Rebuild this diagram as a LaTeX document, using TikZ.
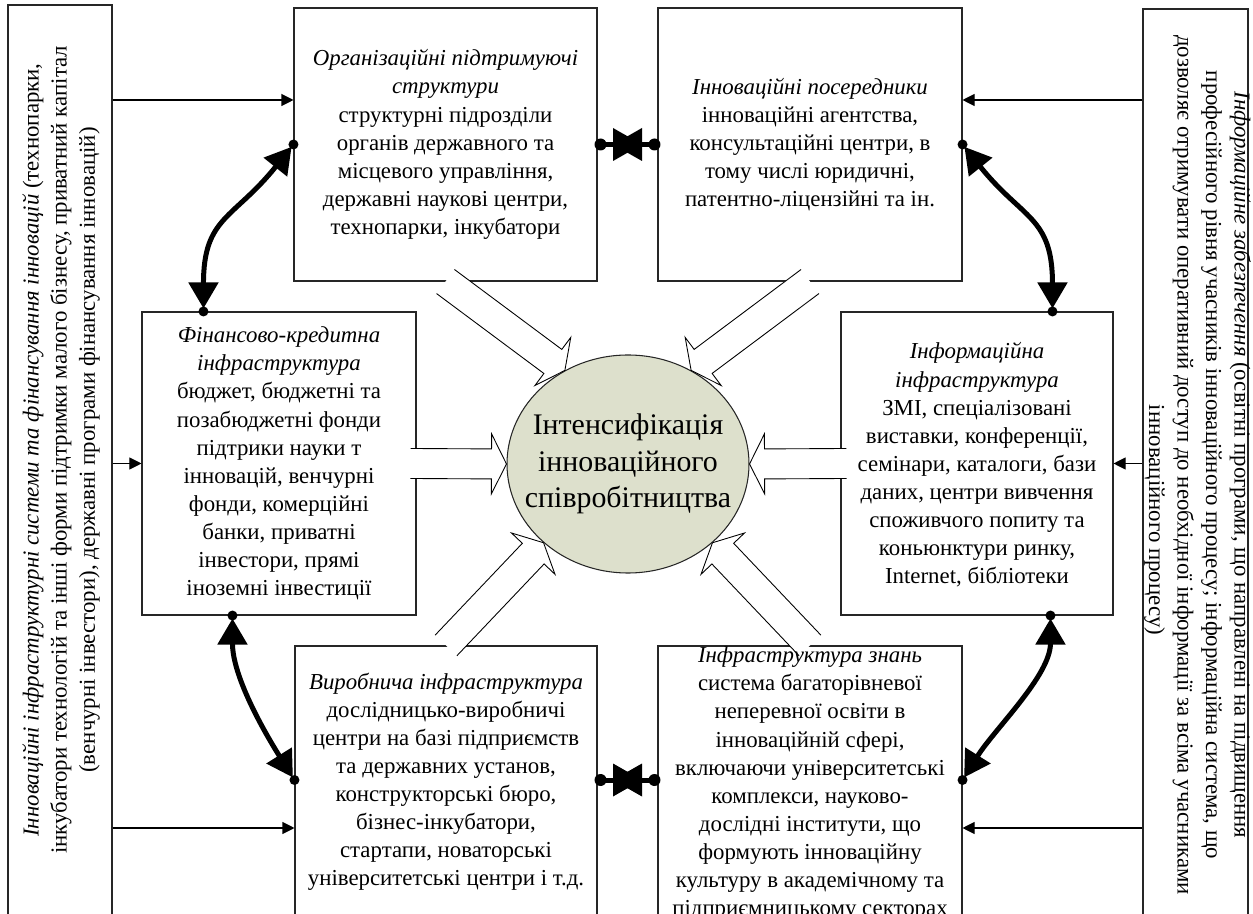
\documentclass[tikz,border=0pt]{standalone}
\usepackage{fontspec}
\setmainfont{Liberation Serif}
\usetikzlibrary{calc,arrows.meta,shapes.geometric}
\definecolor{ellfill}{RGB}{221,224,204}
\newcommand{\hollowarrow}[2]{%
  \coordinate (ha-b) at ($(#2)!3mm!(#1)$);
  \path[fill=white] ($(#1)!3mm!90:(#2)$) -- ($(ha-b)!3mm!-90:(#1)$) -- ($(ha-b)!6mm!-90:(#1)$) -- (#2) -- ($(ha-b)!6mm!90:(#1)$) -- ($(ha-b)!3mm!90:(#1)$) -- ($(#1)!3mm!-90:(#2)$) -- cycle;
  \draw[hollow] ($(#1)!3mm!90:(#2)$) -- ($(ha-b)!3mm!-90:(#1)$) -- ($(ha-b)!6mm!-90:(#1)$) -- (#2) -- ($(ha-b)!6mm!90:(#1)$) -- ($(ha-b)!3mm!90:(#1)$) -- ($(#1)!3mm!-90:(#2)$);
}
\begin{document}
\begin{tikzpicture}[x=0.2mm,y=0.2mm,
  box/.style={draw=black!85,line width=0.6pt,inner sep=0pt},
  txt/.style={align=center,inner sep=0pt,font=\fontsize{13}{16}\selectfont},
  thinarr/.style={draw=black,line width=0.6pt,-{Triangle[length=2.4mm,width=2.4mm]}},
  boldarr/.style={line width=1mm,{Triangle[length=5.2mm,width=5.8mm]}-{Triangle[length=5.2mm,width=5.8mm]},shorten <=0.6mm,shorten >=0.6mm},
  hollow/.style={draw=black,line width=0.5pt},
  dot/.style={fill=black}]
\useasboundingbox (0,0) rectangle (1253,-914);
\clip (0,0) rectangle (1253,-914);
% boxes
\node[box,minimum width=60.6mm,minimum height=54.6mm] (tl) at (445.5,-144.5) {};
\node[box,minimum width=60.8mm,minimum height=54.6mm] (tr) at (810,-144.5) {};
\node[box,minimum width=54.8mm,minimum height=60.6mm] (ml) at (279,-463.5) {};
\node[box,minimum width=54.4mm,minimum height=60.6mm] (mr) at (977,-463.5) {};
\node[box,minimum width=60.4mm,minimum height=58.8mm] (bl) at (446,-793) {};
\node[box,minimum width=60.8mm,minimum height=58.8mm] (br) at (810,-793) {};
\node[box,minimum width=20.8mm,minimum height=187mm] (L) at (60,-472.5) {};
\node[box,minimum width=21mm,minimum height=186.2mm] (R) at (1195.5,-474.5) {};
\node[ellipse,draw=black!85,line width=0.6pt,fill=ellfill,minimum width=48.4mm,minimum height=43.6mm,inner sep=0pt] (E) at (628,-464) {};
% hollow arrows
\coordinate (a1) at ($(ml.east)+(-6,0)$);
\coordinate (a2) at ($(mr.west)+(6,0)$);
\hollowarrow{a1}{E.west}
\hollowarrow{a2}{E.east}
\hollowarrow{tl.south}{E.124}
\hollowarrow{tr.south}{E.56}
\hollowarrow{bl.north}{E.223}
\hollowarrow{br.north}{E.317}
% texts
\node[txt] (ttl) at (tl.center) {\textit{Організаційні підтримуючі}\\\textit{структури}\\структурні підрозділи\\органів державного та\\місцевого управління,\\державні наукові центри,\\технопарки, інкубатори};
\node[txt] (ttr) at (tr.center) {\textit{Інноваційні посередники}\\інноваційні агентства,\\консультаційні центри, в\\тому числі юридичні,\\патентно-ліцензійні та ін.};
\node[txt] (tml) at (ml.center) {\textit{Фінансово-кредитна}\\\textit{інфраструктура}\\бюджет, бюджетні та\\позабюджетні фонди\\підтрики науки т\\інновацій, венчурні\\фонди, комерційні\\банки, приватні\\інвестори, прямі\\іноземні інвестиції};
\node[txt] (tmr) at ($(mr.center)+(0,-1.5)$) {\textit{Інформаційна}\\\textit{інфраструктура}\\ЗМІ, спеціалізовані\\виставки, конференції,\\семінари, каталоги, бази\\даних, центри вивчення\\споживчого попиту та\\коньюнктури ринку,\\Internet, бібліотеки};
\node[txt,anchor=north] (tbl) at ($(bl.north)+(0,-27)$) {\textit{Виробнича інфраструктура}\\дослідницько-виробничі\\центри на базі підприємств\\та державних установ,\\конструкторські бюро,\\бізнес-інкубатори,\\стартапи, новаторські\\університетські центри і т.д.};
\node[txt,anchor=north] (tbr) at ($(br.north)+(0,-1)$) {\textit{Інфраструктура знань}\\система багаторівневої\\неперевної освіти в\\інноваційній сфері,\\включаючи університетські\\комплекси, науково-\\дослідні інститути, що\\формують інноваційну\\культуру в академічному та\\підприємницькому секторах};
\node[align=center,inner sep=0pt,font=\fontsize{17}{20.7}\selectfont] (tE) at (E.center) {Інтенсифікація\\інноваційного\\співробітництва};
\node[txt,rotate=90] (tL) at ($(L.center)+(1,22.5)$) {\textit{Інноваційні інфраструктурні системи та фінансування інновацій} (технопарки,\\інкубатори технологій та інші форми підтримки малого бізнесу, приватний капітал\\(венчурні інвестори), державні програми фінансування інновацій)};
\node[txt,rotate=-90,font=\fontsize{13}{16.2}\selectfont] (tR) at ($(R.center)+(2,9.5)$) {\textit{Інформаційне забезпечення} (освітні програми, що направлені на підвищення\\професійного рівня учасників інноваційного процесу; інформаційна система, що\\дозволяє отримувати оперативний доступ до необхідної інформації за всіма учасниками\\\hspace*{22mm}інноваційного процесу)};
% thin arrows
\coordinate (ya) at (0,-100);
\coordinate (yb) at (0,-828);
\coordinate (yc) at (0,-780);
\draw[thinarr] (L.east |- ya) -- (tl.west |- ya);
\draw[thinarr] (L.east |- ml.west) -- (ml.west);
\draw[thinarr] (L.east |- yb) -- (bl.west |- yb);
\draw[thinarr] (R.west |- ya) -- (tr.east |- ya);
\draw[thinarr] (R.west |- mr.east) -- (mr.east);
\draw[thinarr] (R.west |- yb) -- (br.east |- yb);
% bold curved arrows
\coordinate (p1) at ($(ml.north west)+(62,0)$);
\coordinate (p2) at ($(mr.north west)+(212,0)$);
\coordinate (p3) at ($(ml.south west)+(91,0)$);
\coordinate (p4) at ($(mr.south west)+(210,0)$);
\coordinate (p5) at (bl.west |- yc);
\coordinate (p6) at (br.east |- yc);
\coordinate (p7) at (bl.east |- yc);
\coordinate (p8) at (br.west |- yc);
\draw[boldarr] (tl.west) .. controls +(-60,-75) and +(0,95) .. (p1);
\draw[boldarr] (tr.east) .. controls +(60,-75) and +(0,95) .. (p2);
\draw[boldarr] (p3) .. controls +(0,-60) and +(-32,51) .. (p5);
\draw[boldarr] (p4) .. controls +(0,-60) and +(32,51) .. (p6);
\foreach \p in {tl.west,tr.east,p1,p2,p3,p4,p5,p6}{\fill[dot] (\p) circle[radius=1mm];}
% short bold double arrows
\draw[line width=1mm] (tl.east) -- (tr.west);
\draw[line width=1mm] (p7) -- (p8);
\coordinate (m1) at ($(tl.east)!0.5!(tr.west)$);
\coordinate (m2) at ($(p7)!0.5!(p8)$);
\foreach \m in {m1,m2}{
  \fill ($(\m)+(-14.5,0)$) -- ($(\m)+(14.5,16.5)$) -- ($(\m)+(14.5,-16.5)$) -- cycle;
  \fill ($(\m)+(14.5,0)$) -- ($(\m)+(-14.5,16.5)$) -- ($(\m)+(-14.5,-16.5)$) -- cycle;
}
\fill[dot] ($(tl.east)+(3,0)$) circle[radius=1.2mm];
\fill[dot] ($(tr.west)+(-3,0)$) circle[radius=1.2mm];
\fill[dot] ($(p7)+(3,0)$) circle[radius=1.2mm];
\fill[dot] ($(p8)+(-3,0)$) circle[radius=1.2mm];
\end{tikzpicture}
\end{document}
